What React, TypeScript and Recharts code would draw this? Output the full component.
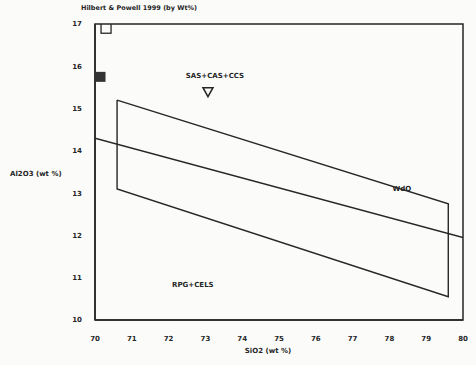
import React from 'react';
import {
  ComposedChart,
  Line,
  Scatter,
  XAxis,
  YAxis,
  ReferenceArea,
} from 'recharts';

// field outlines (SiO2 wt%, Al2O3 wt%)
const boxSiO2 = [70.6, 79.6, 79.6, 70.6, 70.6];
const boxAl2O3 = [15.2, 12.75, 10.55, 13.1, 15.2];

const trendSiO2 = [70, 80];
const trendAl2O3 = [14.3, 11.95];

const xTicks = [70, 71, 72, 73, 74, 75, 76, 77, 78, 79, 80];
const yTicks = [10, 11, 12, 13, 14, 15, 16, 17];

// plotted symbols
const markerSiO2 = [70.3, 70.15, 73.07];
const markerAl2O3 = [16.9, 15.75, 15.4];
const markerKind = ['openSquare', 'filledSquare', 'triangleDown'];

// field annotations
const noteText = ['SAS+CAS+CCS', 'WdO', 'RPG+CELS'];
const noteSiO2 = [73.26, 78.34, 72.66];
const noteAl2O3 = [15.77, 13.1, 10.83];

const INK = '#262626';

const boxData = boxSiO2.map((x, i) => ({ x, y: boxAl2O3[i] }));
const trendData = trendSiO2.map((x, i) => ({ x, y: trendAl2O3[i] }));
const markerData = markerSiO2.map((x, i) => ({ x, y: markerAl2O3[i], kind: markerKind[i] }));
const noteData = noteSiO2.map((x, i) => ({ x, y: noteAl2O3[i], text: noteText[i] }));

const MarkerShape = (props: any) => {
  const { cx, cy, payload } = props;
  if (payload.kind === 'openSquare') {
    return <rect x={cx - 5} y={cy - 5} width={10} height={10} fill="none" stroke={INK} strokeWidth={1.3} />;
  }
  if (payload.kind === 'filledSquare') {
    return <rect x={cx - 5} y={cy - 5} width={10} height={10} fill="#333" />;
  }
  return (
    <path
      d={`M${cx - 5},${cy - 4} L${cx + 5},${cy - 4} L${cx},${cy + 5} Z`}
      fill="none"
      stroke={INK}
      strokeWidth={1.5}
    />
  );
};

const NoteShape = (props: any) => {
  const { cx, cy, payload } = props;
  return (
    <text
      x={cx}
      y={cy}
      textAnchor="middle"
      dominantBaseline="middle"
      fontSize={7}
      fontWeight="bold"
      fill={INK}
      fontFamily="DejaVu Sans"
    >
      {payload.text}
    </text>
  );
};

const tickStyle = { fontSize: 7, fontWeight: 'bold' as const, fill: INK, fontFamily: 'DejaVu Sans' };

export default function App() {
  return (
    <div
      style={{
        position: 'absolute',
        top: 0,
        left: 0,
        width: 476,
        height: 365,
        background: '#fbfbfa',
        fontFamily: 'DejaVu Sans',
      }}
    >
      <div
        style={{
          position: 'absolute',
          left: 78,
          top: 4,
          width: 122,
          textAlign: 'center',
          whiteSpace: 'nowrap',
          fontSize: 6.5,
          fontWeight: 'bold',
          color: INK,
        }}
      >
        Hilbert &amp; Powell 1999 (by Wt%)
      </div>
      <div
        style={{ position: 'absolute', left: 10, top: 170, fontSize: 7, fontWeight: 'bold', color: INK }}
      >
        Al2O3 (wt %)
      </div>
      <div
        style={{
          position: 'absolute',
          left: 218,
          top: 347,
          width: 100,
          textAlign: 'center',
          fontSize: 7,
          fontWeight: 'bold',
          color: INK,
        }}
      >
        SiO2 (wt %)
      </div>
      <ComposedChart
        width={476}
        height={365}
        margin={{ top: 24, right: 13, bottom: 15, left: 65 }}
        style={{ position: 'absolute', top: 0, left: 0 }}
      >
        <XAxis
          type="number"
          dataKey="x"
          domain={[70, 80]}
          ticks={xTicks}
          allowDataOverflow
          height={30}
          tick={tickStyle}
          tickLine={false}
          tickMargin={10}
          axisLine={{ stroke: INK, strokeWidth: 1.5 }}
        />
        <YAxis
          type="number"
          dataKey="y"
          domain={[10, 17]}
          ticks={yTicks}
          allowDataOverflow
          width={30}
          tick={tickStyle}
          tickLine={false}
          tickMargin={7}
          axisLine={{ stroke: INK, strokeWidth: 1.5 }}
        />
        <ReferenceArea x1={70} x2={80} y1={10} y2={17} fill="none" stroke={INK} strokeWidth={1.5} />
        <Line
          data={boxData}
          dataKey="y"
          type="linear"
          stroke={INK}
          strokeWidth={1.4}
          dot={false}
          isAnimationActive={false}
        />
        <Line
          data={trendData}
          dataKey="y"
          type="linear"
          stroke={INK}
          strokeWidth={1.4}
          dot={false}
          isAnimationActive={false}
        />
        <Scatter data={markerData} shape={<MarkerShape />} isAnimationActive={false} />
        <Scatter data={noteData} shape={<NoteShape />} isAnimationActive={false} />
      </ComposedChart>
    </div>
  );
}
